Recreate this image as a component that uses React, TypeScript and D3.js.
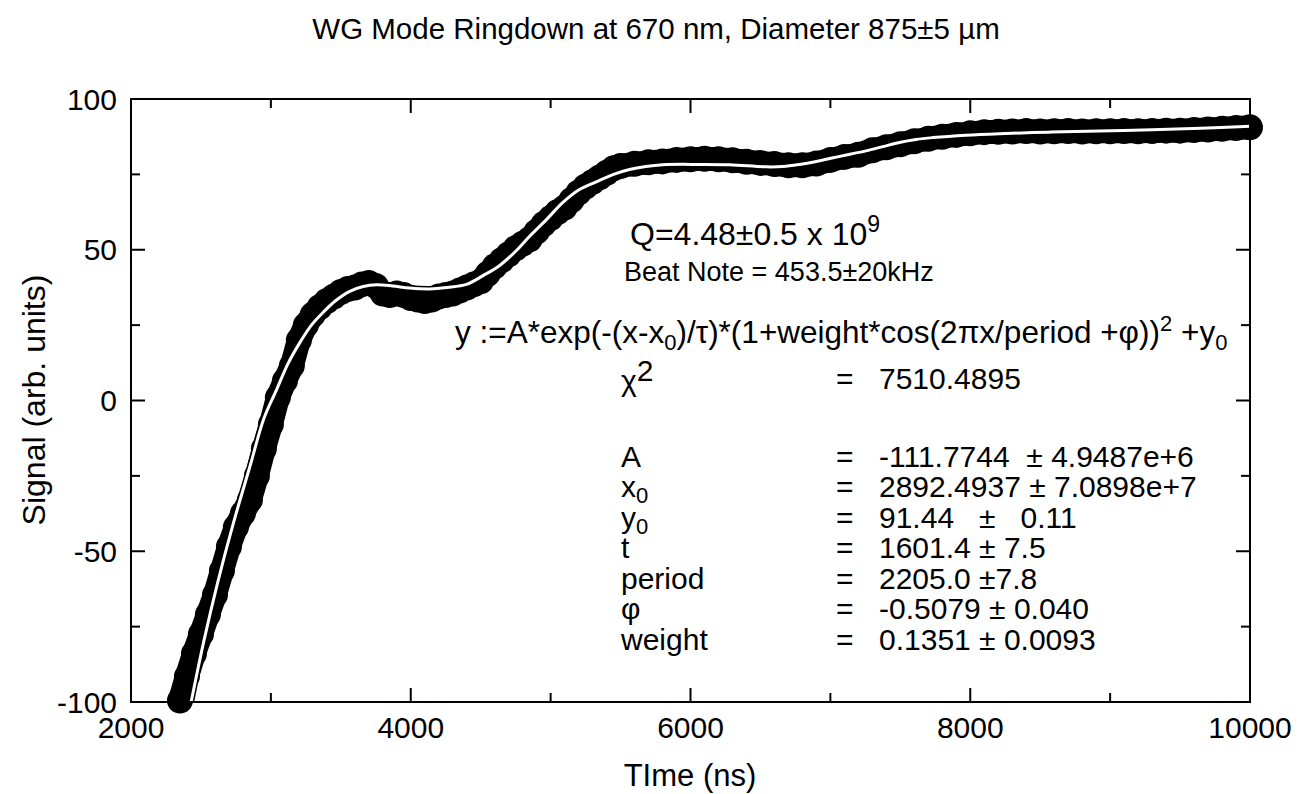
import React from "react";
import * as d3 from "d3";

const dataTime = [2350,2400,2450,2500,2550,2600,2650,2700,2750,2800,2850,2900,2950,3000,3050,3100,3150,3200,3250,3300,3350,3400,3450,3500,3550,3600,3650,3700,3750,3800,3850,3900,3950,4000,4050,4100,4150,4200,4250,4300,4350,4400,4450,4500,4550,4600,4650,4700,4750,4800,4850,4900,4950,5000,5050,5100,5150,5200,5250,5300,5350,5400,5450,5500,5600,5700,5800,5900,6000,6100,6200,6300,6400,6500,6600,6700,6800,6900,7000,7100,7200,7300,7400,7500,7600,7700,7800,7900,8000,8100,8200,8300,8400,8500,8600,8700,8800,8900,9000,9100,9200,9300,9400,9500,9600,9700,9800,9900,10000];
const dataSignal = [-99.5,-91.5,-84,-77.5,-71,-64.5,-56.5,-48.5,-42,-37.5,-33,-25,-16,-8,1,6.5,11.5,20,25,28.5,31,33,34.5,36,37,37.5,38.5,39,38,35.5,35,35.5,35,34,33.5,33,33.5,34.5,35,35.5,36.5,37.5,38.5,39.5,42,44.5,46.5,48.5,50.5,52,53.5,56,58.5,60.5,62.5,64,66.5,69,71,72.5,74,75.5,77,77.8,78.5,79,79.3,79.8,80,80.2,80,79.7,79.2,78.8,78.4,78,78,78.6,79.8,80.8,81.5,83,84,85,86,86.8,87.5,88.1,88.6,89,89.1,89.2,89.4,89.2,89.3,89.4,89.2,89.3,89.3,89.4,89.3,89.4,89.5,89.5,89.7,89.9,90.1,90.4,90.6];

const fitTime = [2430,2520,2619,2730,2850,2950,3041,3120,3207,3290,3371,3460,3564,3660,3755,3870,3993,4136,4260,4398,4520,4636,4750,4850,4970,5086,5200,5326,5450,5564,5680,5800,6064,6279,6540,6660,6779,6900,7020,7140,7255,7375,7493,7613,7733,7969,8207,8560,8921,9300,9650,10000];
const fitSignal = [-100,-80,-60.5,-41,-21.9,-6,3.6,12,19.2,25,29.1,33,36.2,37.8,38.4,38.0,37.3,37.0,37.5,38.5,41.5,44.8,49.5,54.5,60,65.6,69.8,72.5,75,76.6,77.6,78.2,78.3,78.2,77.5,77.6,78.3,79.3,80.5,81.7,82.8,84.2,85.6,86.6,87.2,88.0,88.5,89.0,89.4,89.8,90.3,91];

const xMajorTicks = [2000, 4000, 6000, 8000, 10000];
const xMinorTicks = [3000, 5000, 7000, 9000];
const yMajorTicks = [-100, -50, 0, 50, 100];
const yMinorTicks = [-75, -25, 25, 75];

const titleText = "WG Mode Ringdown at 670 nm, Diameter 875\u00B15 \u00B5m";
const xTitle = "TIme (ns)";
const yTitle = "Signal (arb. units)";

const paramLabels = ["A", "x", "y", "t", "period", "\u03C6", "weight"];
const paramSubs = ["", "0", "0", "", "", "", ""];
const paramValues = [
  "-111.7744  \u00B1 4.9487e+6",
  "2892.4937 \u00B1 7.0898e+7",
  "91.44   \u00B1   0.11",
  "1601.4 \u00B1 7.5",
  "2205.0 \u00B17.8",
  "-0.5079 \u00B1 0.040",
  "0.1351 \u00B1 0.0093",
];
const chiValue = "7510.4895";

const W = 1302;
const H = 794;
const FONT = "'Liberation Sans', Arial, Helvetica, sans-serif";

export default function App() {
  const x = d3.scaleLinear().domain([2000, 10000]).range([131, 1250]);
  const y = d3.scaleLinear().domain([-100, 100]).range([702, 99]);

  const pts: [number, number][] = dataTime.map((t, i) => [x(t), y(dataSignal[i])]);
  const dataLine = d3.line().curve(d3.curveLinear)(pts) || "";
  const fitPts: [number, number][] = fitTime.map((t, i) => [x(t), y(fitSignal[i])]);
  const fitLine = d3.line().curve(d3.curveCatmullRom.alpha(0.5))(fitPts) || "";

  const [x0, x1] = x.range();
  const [yb, yt] = y.range();
  const majorLen = 14;
  const minorLen = 9;

  const rowBase = [467, 497, 528, 558, 589, 619, 650];
  const labelX = 621;
  const eqX = 836;
  const valX = 879;
  const fs = 30;

  return (
    <svg width={W} height={H} style={{ position: "absolute", left: 0, top: 0, background: "#fff" }} fontFamily={FONT}>
      <rect x={0} y={0} width={W} height={H} fill="#fff" />
      {/* title */}
      <text x={656} y={39} textAnchor="middle" fontSize={29.5} fill="#000">{titleText}</text>

      {/* data markers */}
      <path d={dataLine} fill="none" stroke="#000" strokeWidth={24} strokeLinejoin="round" strokeLinecap="round" />
      {pts.map((p, i) => (
        <circle key={i} cx={p[0]} cy={p[1]} r={13} fill="#000" />
      ))}
      {/* fit */}
      <path d={fitLine} fill="none" stroke="#000" strokeWidth={6} />
      <path d={fitLine} fill="none" stroke="#fff" strokeWidth={3} />

      {/* frame */}
      <rect x={x0} y={yt} width={x1 - x0} height={yb - yt} fill="none" stroke="#000" strokeWidth={2} />
      {xMajorTicks.map((t) => (
        <g key={"xm" + t}>
          <line x1={x(t)} x2={x(t)} y1={yb} y2={yb - majorLen} stroke="#000" strokeWidth={2} />
          <line x1={x(t)} x2={x(t)} y1={yt} y2={yt + majorLen} stroke="#000" strokeWidth={2} />
          <text x={x(t)} y={738} textAnchor="middle" fontSize={fs}>{t}</text>
        </g>
      ))}
      {xMinorTicks.map((t) => (
        <g key={"xn" + t}>
          <line x1={x(t)} x2={x(t)} y1={yb} y2={yb - minorLen} stroke="#000" strokeWidth={2} />
          <line x1={x(t)} x2={x(t)} y1={yt} y2={yt + minorLen} stroke="#000" strokeWidth={2} />
        </g>
      ))}
      {yMajorTicks.map((t) => (
        <g key={"ym" + t}>
          <line x1={x0} x2={x0 + majorLen} y1={y(t)} y2={y(t)} stroke="#000" strokeWidth={2} />
          <line x1={x1} x2={x1 - majorLen} y1={y(t)} y2={y(t)} stroke="#000" strokeWidth={2} />
          <text x={117} y={y(t) + 10.5} textAnchor="end" fontSize={fs}>{t}</text>
        </g>
      ))}
      {yMinorTicks.map((t) => (
        <g key={"yn" + t}>
          <line x1={x0} x2={x0 + minorLen} y1={y(t)} y2={y(t)} stroke="#000" strokeWidth={2} />
          <line x1={x1} x2={x1 - minorLen} y1={y(t)} y2={y(t)} stroke="#000" strokeWidth={2} />
        </g>
      ))}

      {/* axis titles */}
      <text x={690} y={786} textAnchor="middle" fontSize={31}>{xTitle}</text>
      <text transform={`translate(45,400) rotate(-90)`} textAnchor="middle" fontSize={32}>{yTitle}</text>

      {/* annotations */}
      <text x={630} y={245} fontSize={32}>
        Q=4.48{"\u00B1"}0.5 x 10<tspan dy={-13} fontSize={23}>9</tspan>
      </text>
      <text x={624} y={281} fontSize={27}>Beat Note = 453.5{"\u00B1"}20kHz</text>
      <text x={455} y={343} fontSize={31.5}>
        y :=A*exp(-(x-x<tspan dy={7} fontSize={22}>0</tspan><tspan dy={-7}>)/{"\u03C4"})*(1+weight*cos(2{"\u03C0"}x/period +{"\u03C6"}))</tspan>
        <tspan dy={-12} fontSize={22}>2</tspan>
        <tspan dy={12}> +y</tspan>
        <tspan dy={7} fontSize={22}>0</tspan>
      </text>

      <text x={labelX} y={391} fontSize={fs}>
        {"\u03C7"}<tspan dy={-10} fontSize={fs}>2</tspan>
      </text>
      <text x={eqX} y={389} fontSize={fs}>=</text>
      <text x={valX} y={389} fontSize={fs}>{chiValue}</text>

      {paramLabels.map((lab, i) => (
        <g key={"p" + i}>
          <text x={labelX} y={rowBase[i]} fontSize={fs}>
            {lab}
            {paramSubs[i] ? <tspan dy={6} fontSize={22}>{paramSubs[i]}</tspan> : null}
          </text>
          <text x={eqX} y={rowBase[i]} fontSize={fs}>=</text>
          <text x={valX} y={rowBase[i]} fontSize={fs} style={{ whiteSpace: "pre" }}>{paramValues[i]}</text>
        </g>
      ))}
    </svg>
  );
}
